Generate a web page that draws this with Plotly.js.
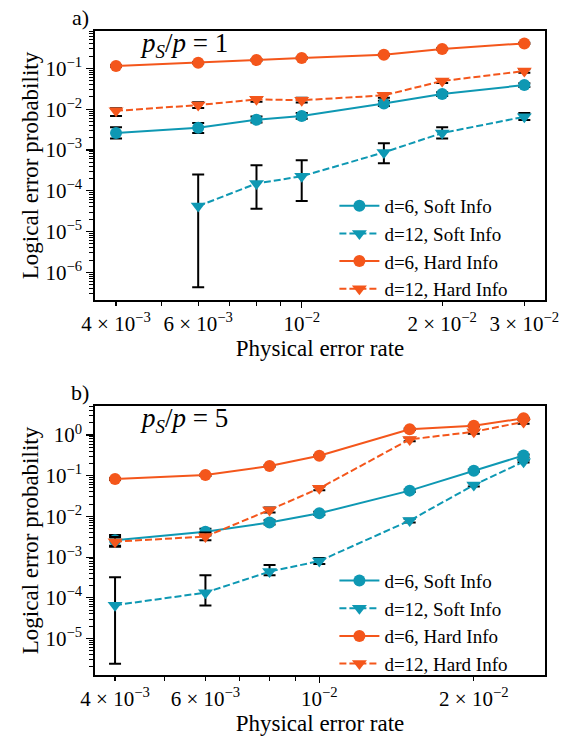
<!DOCTYPE html>
<html>
<head>
<meta charset="utf-8">
<script src="https://cdn.plot.ly/plotly-3.0.1.min.js"></script>
<style>
html,body{margin:0;padding:0;background:#fff;}
#chart{width:563px;height:736px;}
#chart .xtick text, #chart .ytick text, #chart .x2tick text, #chart .y2tick text { font-size: 21px !important; }
</style>
</head>
<body>
<div id="chart"></div>
<script>
// ---------- Data ----------
const pA = [0.004, 0.006, 0.008, 0.01, 0.015, 0.02, 0.03];
const pB = [0.004, 0.006, 0.008, 0.01, 0.015, 0.02, 0.025];

// Panel a) pS/p = 1
const aSoft6   = [0.0026, 0.0035, 0.0055, 0.0068, 0.0138, 0.0234, 0.039];
const aSoft6Lo = [0.0019, 0.0026, 0.0047, 0.0058, 0.0120, 0.0210, 0.035];
const aSoft6Hi = [0.0036, 0.0046, 0.0066, 0.0080, 0.0160, 0.0260, 0.043];
const aSoft12   = [null, 4.2e-5, 1.5e-4, 2.26e-4, 8.7e-4, 2.6e-3, 6.5e-3];
const aSoft12Lo = [null, 4.3e-7, 3.6e-5, 5.6e-5, 4.7e-4, 1.9e-3, 5.4e-3];
const aSoft12Hi = [null, 2.5e-4, 4.2e-4, 5.6e-4, 1.45e-3, 3.6e-3, 8.1e-3];
const aHard6   = [0.115, 0.137, 0.160, 0.180, 0.216, 0.300, 0.410];
const aHard6Lo = [0.110, 0.131, 0.153, 0.172, 0.207, 0.288, 0.395];
const aHard6Hi = [0.120, 0.143, 0.167, 0.188, 0.225, 0.312, 0.425];
const aHard12   = [0.0091, 0.0126, 0.0174, 0.0166, 0.0218, 0.049, 0.086];
const aHard12Lo = [0.0068, 0.0107, 0.0152, 0.0145, 0.0190, 0.044, 0.078];
const aHard12Hi = [0.0105, 0.0148, 0.0198, 0.0190, 0.0250, 0.055, 0.095];

// Panel b) pS/p = 5
const bSoft6   = [0.0026, 0.0042, 0.0071, 0.0119, 0.043, 0.133, 0.316];
const bSoft6Lo = [0.0019, 0.0034, 0.0063, 0.0108, 0.040, 0.125, 0.280];
const bSoft6Hi = [0.0035, 0.0050, 0.0080, 0.0130, 0.046, 0.142, 0.330];
const bSoft12   = [6.6e-5, 1.34e-4, 4.4e-4, 8.0e-4, 0.0079, 0.059, 0.22];
const bSoft12Lo = [2.4e-6, 6.5e-5, 3.6e-4, 6.8e-4, 0.0071, 0.054, 0.21];
const bSoft12Hi = [3.2e-4, 3.6e-4, 6.4e-4, 9.5e-4, 0.0088, 0.065, 0.24];
const bHard6   = [0.083, 0.104, 0.173, 0.31, 1.38, 1.69, 2.57];
const bHard6Lo = [0.079, 0.099, 0.166, 0.30, 1.32, 1.62, 2.47];
const bHard6Hi = [0.087, 0.109, 0.180, 0.32, 1.44, 1.76, 2.67];
const bHard12   = [0.0024, 0.0032, 0.0144, 0.049, 0.78, 1.20, 2.10];
const bHard12Lo = [0.0018, 0.0026, 0.0125, 0.044, 0.70, 1.08, 1.90];
const bHard12Hi = [0.0031, 0.0040, 0.0165, 0.054, 0.86, 1.32, 2.30];

const seriesNames = ["d=6, Soft Info", "d=12, Soft Info", "d=6, Hard Info", "d=12, Hard Info"];

// Tick labels
const xTickValsA = [0.004, 0.006, 0.01, 0.02, 0.03];
const xTickTextA = ["4 × 10<sup>−3</sup>", "6 × 10<sup>−3</sup>", "10<sup>−2</sup>", "2 × 10<sup>−2</sup>", "3 × 10<sup>−2</sup>"];
const xTickValsB = [0.004, 0.006, 0.01, 0.02];
const xTickTextB = ["4 × 10<sup>−3</sup>", "6 × 10<sup>−3</sup>", "10<sup>−2</sup>", "2 × 10<sup>−2</sup>"];
const yExpA = [-6, -5, -4, -3, -2, -1];
const yExpB = [-5, -4, -3, -2, -1, 0];
const panelLabels = ["a)", "b)"];
const ratioLabels = ["<i>p<sub>S</sub></i>/<i>p</i> = 1", "<i>p<sub>S</sub></i>/<i>p</i> = 5"];

// ---------- Styling ----------
const TEAL = "#0e98b3";
const ORANGE = "#f4561b";
const FONT = "Liberation Serif, DejaVu Serif, serif";

function errs(v, lo, hi) {
  return {
    type: "data", symmetric: false,
    array: v.map((d, i) => d == null ? null : hi[i] - d),
    arrayminus: v.map((d, i) => d == null ? null : d - lo[i]),
    color: "#000", thickness: 2, width: 6
  };
}
function tr(x, y, lo, hi, name, color, dash, symbol, xa, ya, legend) {
  return {
    type: "scatter", mode: "lines+markers", x: x, y: y, name: name,
    xaxis: xa, yaxis: ya, legend: legend,
    line: {color: color, width: 2, dash: dash},
    marker: {color: color, size: symbol === "circle" ? 12 : 13, symbol: symbol},
    error_y: errs(y, lo, hi),
    connectgaps: false
  };
}
const DASH = "7px,3px";
const traces = [
  tr(pA, aSoft6, aSoft6Lo, aSoft6Hi, seriesNames[0], TEAL, "solid", "circle", "x", "y", "legend"),
  tr(pA, aSoft12, aSoft12Lo, aSoft12Hi, seriesNames[1], TEAL, DASH, "triangle-down", "x", "y", "legend"),
  tr(pA, aHard6, aHard6Lo, aHard6Hi, seriesNames[2], ORANGE, "solid", "circle", "x", "y", "legend"),
  tr(pA, aHard12, aHard12Lo, aHard12Hi, seriesNames[3], ORANGE, DASH, "triangle-down", "x", "y", "legend"),
  tr(pB, bSoft6, bSoft6Lo, bSoft6Hi, seriesNames[0], TEAL, "solid", "circle", "x2", "y2", "legend2"),
  tr(pB, bSoft12, bSoft12Lo, bSoft12Hi, seriesNames[1], TEAL, DASH, "triangle-down", "x2", "y2", "legend2"),
  tr(pB, bHard6, bHard6Lo, bHard6Hi, seriesNames[2], ORANGE, "solid", "circle", "x2", "y2", "legend2"),
  tr(pB, bHard12, bHard12Lo, bHard12Hi, seriesNames[3], ORANGE, DASH, "triangle-down", "x2", "y2", "legend2"),
  {type: "scatter", x: [], y: [], xaxis: "x3", yaxis: "y", showlegend: false, hoverinfo: "skip"},
  {type: "scatter", x: [], y: [], xaxis: "x4", yaxis: "y2", showlegend: false, hoverinfo: "skip"}
];

function minorLogVals(e0, e1) {
  const out = [];
  for (let e = e0; e <= e1; e++) for (let k = 2; k <= 9; k++) out.push(k * Math.pow(10, e));
  return out;
}
function yTicks(exps) {
  return {
    tickvals: exps.map(e => Math.pow(10, e)),
    ticktext: exps.map(e => "10<sup>" + (e < 0 ? "−" + (-e) : String(e)) + "</sup>")
  };
}
const xMinor = [0.004, 0.005, 0.006, 0.007, 0.008, 0.009, 0.02, 0.03];

const TICKFONT = {family: FONT, size: 21, color: "#000"};
const axBase = {
  type: "log", showgrid: false, zeroline: false,
  showline: true, mirror: true, linecolor: "#000", linewidth: 1.6,
  ticks: "outside", tickcolor: "#000", tickwidth: 1.2
};
const titleFont = {family: FONT, size: 23, color: "#000"};

const yA = yTicks(yExpA), yB = yTicks(yExpB);

const layout = {
  width: 563, height: 736,
  paper_bgcolor: "#fff", plot_bgcolor: "#fff",
  margin: {l: 95, r: 18, t: 31, b: 61},
  showlegend: true,
  font: {family: FONT, size: 21, color: "#000"},
  xaxis: Object.assign({}, axBase, {
    domain: [0, 1], anchor: "y", tickfont: TICKFONT,
    range: [-2.443, -1.4786], tickmode: "array", tickvals: xTickValsA, ticktext: xTickTextA, ticklen: 4,
    minor: {tickmode: "array", tickvals: xMinor, ticks: "outside", ticklen: 4, tickcolor: "#000", tickwidth: 1},
    title: {text: "Physical error rate", font: titleFont, standoff: 4}
  }),
  yaxis: Object.assign({}, axBase, {
    domain: [0.5823, 1], anchor: "x", tickfont: TICKFONT,
    range: [-6.68, -0.083], tickmode: "array", tickvals: yA.tickvals, ticktext: yA.ticktext, ticklen: 7,
    minor: {tickmode: "array", tickvals: minorLogVals(-7, -1), ticks: "outside", ticklen: 4, tickcolor: "#000", tickwidth: 1},
    title: {text: "Logical error probability", font: titleFont, standoff: 0}
  }),
  xaxis2: Object.assign({}, axBase, {
    domain: [0, 1], anchor: "y2", tickfont: TICKFONT,
    range: [-2.437, -1.5603], tickmode: "array", tickvals: xTickValsB, ticktext: xTickTextB, ticklen: 4,
    minor: {tickmode: "array", tickvals: xMinor, ticks: "outside", ticklen: 4, tickcolor: "#000", tickwidth: 1},
    title: {text: "Physical error rate", font: titleFont, standoff: 4}
  }),
  yaxis2: Object.assign({}, axBase, {
    domain: [0, 0.4177], anchor: "x2", tickfont: TICKFONT,
    range: [-5.897, 0.713], tickmode: "array", tickvals: yB.tickvals, ticktext: yB.ticktext, ticklen: 7,
    minor: {tickmode: "array", tickvals: minorLogVals(-6, 0), ticks: "outside", ticklen: 4, tickcolor: "#000", tickwidth: 1},
    title: {text: "Logical error probability", font: titleFont, standoff: 0}
  }),
  xaxis3: {type: "log", overlaying: "x", anchor: "y", side: "bottom", range: [-2.443, -1.4786],
    showgrid: false, zeroline: false, showline: false, showticklabels: false,
    tickmode: "array", tickvals: [0.01], ticks: "outside", ticklen: 7, tickwidth: 1.2, tickcolor: "#000"},
  xaxis4: {type: "log", overlaying: "x2", anchor: "y2", side: "bottom", range: [-2.437, -1.5603],
    showgrid: false, zeroline: false, showline: false, showticklabels: false,
    tickmode: "array", tickvals: [0.01], ticks: "outside", ticklen: 7, tickwidth: 1.2, tickcolor: "#000"},
  legend: {x: 0.532, y: 0.758, xanchor: "left", yanchor: "top", bgcolor: "rgba(255,255,255,0)",
    font: {family: FONT, size: 19, color: "#000"}, tracegroupgap: 0, itemwidth: 40},
  legend2: {x: 0.532, y: 0.176, xanchor: "left", yanchor: "top", bgcolor: "rgba(255,255,255,0)",
    font: {family: FONT, size: 19, color: "#000"}, tracegroupgap: 0, itemwidth: 40},
  annotations: [
    {xref: "paper", yref: "paper", x: -0.033, y: 1.021, xanchor: "center", yanchor: "middle",
     text: panelLabels[0], showarrow: false, font: {family: FONT, size: 22, color: "#000"}},
    {xref: "paper", yref: "paper", x: -0.033, y: 0.438, xanchor: "center", yanchor: "middle",
     text: panelLabels[1], showarrow: false, font: {family: FONT, size: 22, color: "#000"}},
    {xref: "paper", yref: "paper", x: 0.095, y: 0.978, xanchor: "left", yanchor: "middle",
     text: ratioLabels[0], showarrow: false, font: {family: FONT, size: 27, color: "#000"}},
    {xref: "paper", yref: "paper", x: 0.095, y: 0.396, xanchor: "left", yanchor: "middle",
     text: ratioLabels[1], showarrow: false, font: {family: FONT, size: 27, color: "#000"}}
  ]
};

Plotly.newPlot("chart", traces, layout, {displayModeBar: false, staticPlot: true});
</script>
</body>
</html>
